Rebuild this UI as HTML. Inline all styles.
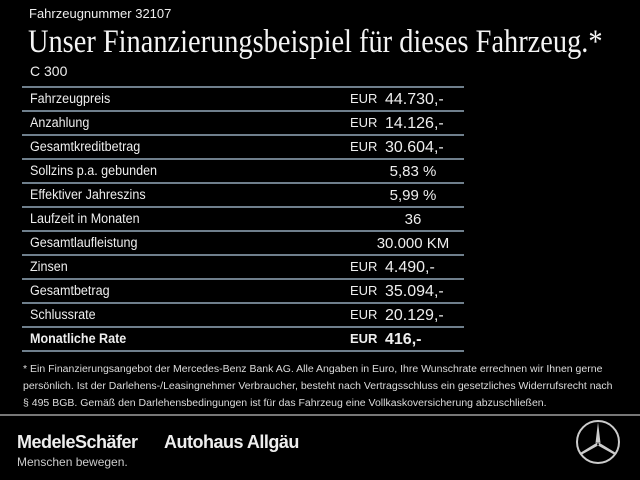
<!DOCTYPE html><html><head><style>
body{margin:0;width:640px;height:480px;background:#000;color:#eee;font-family:"Liberation Sans",sans-serif;position:relative;overflow:hidden}
.a{position:absolute;white-space:nowrap}
.line{position:absolute;left:22px;width:442px;height:2px;background:#6f7f8c}
.lbl{font-size:13.5px;left:30px;transform:scaleX(.93);transform-origin:left}
.eur{font-size:13px;left:350px}
.val{font-size:16px;left:385px}
.c{font-size:15px;left:363px;width:100px;text-align:center}
</style></head><body>
<div class="a" style="left:29px;top:6px;font-size:13px">Fahrzeugnummer 32107</div>
<div class="a" style="left:28px;top:24px;font-family:'Liberation Serif',serif;font-size:33px;color:#f4f4f4;transform:scaleX(.86);transform-origin:left">Unser Finanzierungsbeispiel für dieses Fahrzeug.*</div>
<div class="a" style="left:30px;top:63px;font-size:14px">C 300</div>
<div class="line" style="top:86px"></div>
<div class="line" style="top:110px"></div>
<div class="line" style="top:134px"></div>
<div class="line" style="top:158px"></div>
<div class="line" style="top:182px"></div>
<div class="line" style="top:206px"></div>
<div class="line" style="top:230px"></div>
<div class="line" style="top:254px"></div>
<div class="line" style="top:278px"></div>
<div class="line" style="top:302px"></div>
<div class="line" style="top:326px"></div>
<div class="line" style="top:350px"></div>
<div class="a lbl" style="top:91px">Fahrzeugpreis</div><div class="a eur" style="top:91px">EUR</div><div class="a val" style="top:91px">44.730,-</div>
<div class="a lbl" style="top:115px">Anzahlung</div><div class="a eur" style="top:115px">EUR</div><div class="a val" style="top:115px">14.126,-</div>
<div class="a lbl" style="top:139px">Gesamtkreditbetrag</div><div class="a eur" style="top:139px">EUR</div><div class="a val" style="top:139px">30.604,-</div>
<div class="a lbl" style="top:163px">Sollzins p.a. gebunden</div><div class="a c" style="top:163px">5,83 %</div>
<div class="a lbl" style="top:187px">Effektiver Jahreszins</div><div class="a c" style="top:187px">5,99 %</div>
<div class="a lbl" style="top:211px">Laufzeit in Monaten</div><div class="a c" style="top:211px">36</div>
<div class="a lbl" style="top:235px">Gesamtlaufleistung</div><div class="a c" style="top:235px">30.000 KM</div>
<div class="a lbl" style="top:259px">Zinsen</div><div class="a eur" style="top:259px">EUR</div><div class="a val" style="top:259px">4.490,-</div>
<div class="a lbl" style="top:283px">Gesamtbetrag</div><div class="a eur" style="top:283px">EUR</div><div class="a val" style="top:283px">35.094,-</div>
<div class="a lbl" style="top:307px">Schlussrate</div><div class="a eur" style="top:307px">EUR</div><div class="a val" style="top:307px">20.129,-</div>
<div class="a lbl" style="top:331px;font-weight:bold">Monatliche Rate</div><div class="a eur" style="top:331px;font-weight:bold">EUR</div><div class="a val" style="top:331px;font-weight:bold">416,-</div>
<div class="a" style="left:23px;top:361px;font-size:10px;line-height:17px;color:#ddd;transform:scaleX(1.05);transform-origin:left">* Ein Finanzierungsangebot der Mercedes-Benz Bank AG. Alle Angaben in Euro, Ihre Wunschrate errechnen wir Ihnen gerne<br>persönlich. Ist der Darlehens-/Leasingnehmer Verbraucher, besteht nach Vertragsschluss ein gesetzliches Widerrufsrecht nach<br>§ 495 BGB. Gemäß den Darlehensbedingungen ist für das Fahrzeug eine Vollkaskoversicherung abzuschließen.</div>
<div style="position:absolute;left:0;top:414px;width:640px;height:2px;background:#777"></div>
<div class="a" style="left:17px;top:432px;font-size:18px;font-weight:bold;letter-spacing:-.5px">MedeleSchäfer</div>
<div class="a" style="left:164px;top:432px;font-size:18px;font-weight:bold;letter-spacing:-.5px">Autohaus Allgäu</div>
<div class="a" style="left:17px;top:455px;font-size:12px;color:#ccc">Menschen bewegen.</div>
<svg class="a" style="left:575px;top:419px" width="46" height="46" viewBox="0 0 46 46"><circle cx="23" cy="23" r="21" fill="none" stroke="#ccc" stroke-width="2"/><path d="M23 3 L25.5 24 L23 23 L20.5 24 Z M23 23 L5 34 L6 36 L24 26 Z M23 23 L41 34 L40 36 L22 26 Z" fill="#ccc"/></svg>
</body></html>
